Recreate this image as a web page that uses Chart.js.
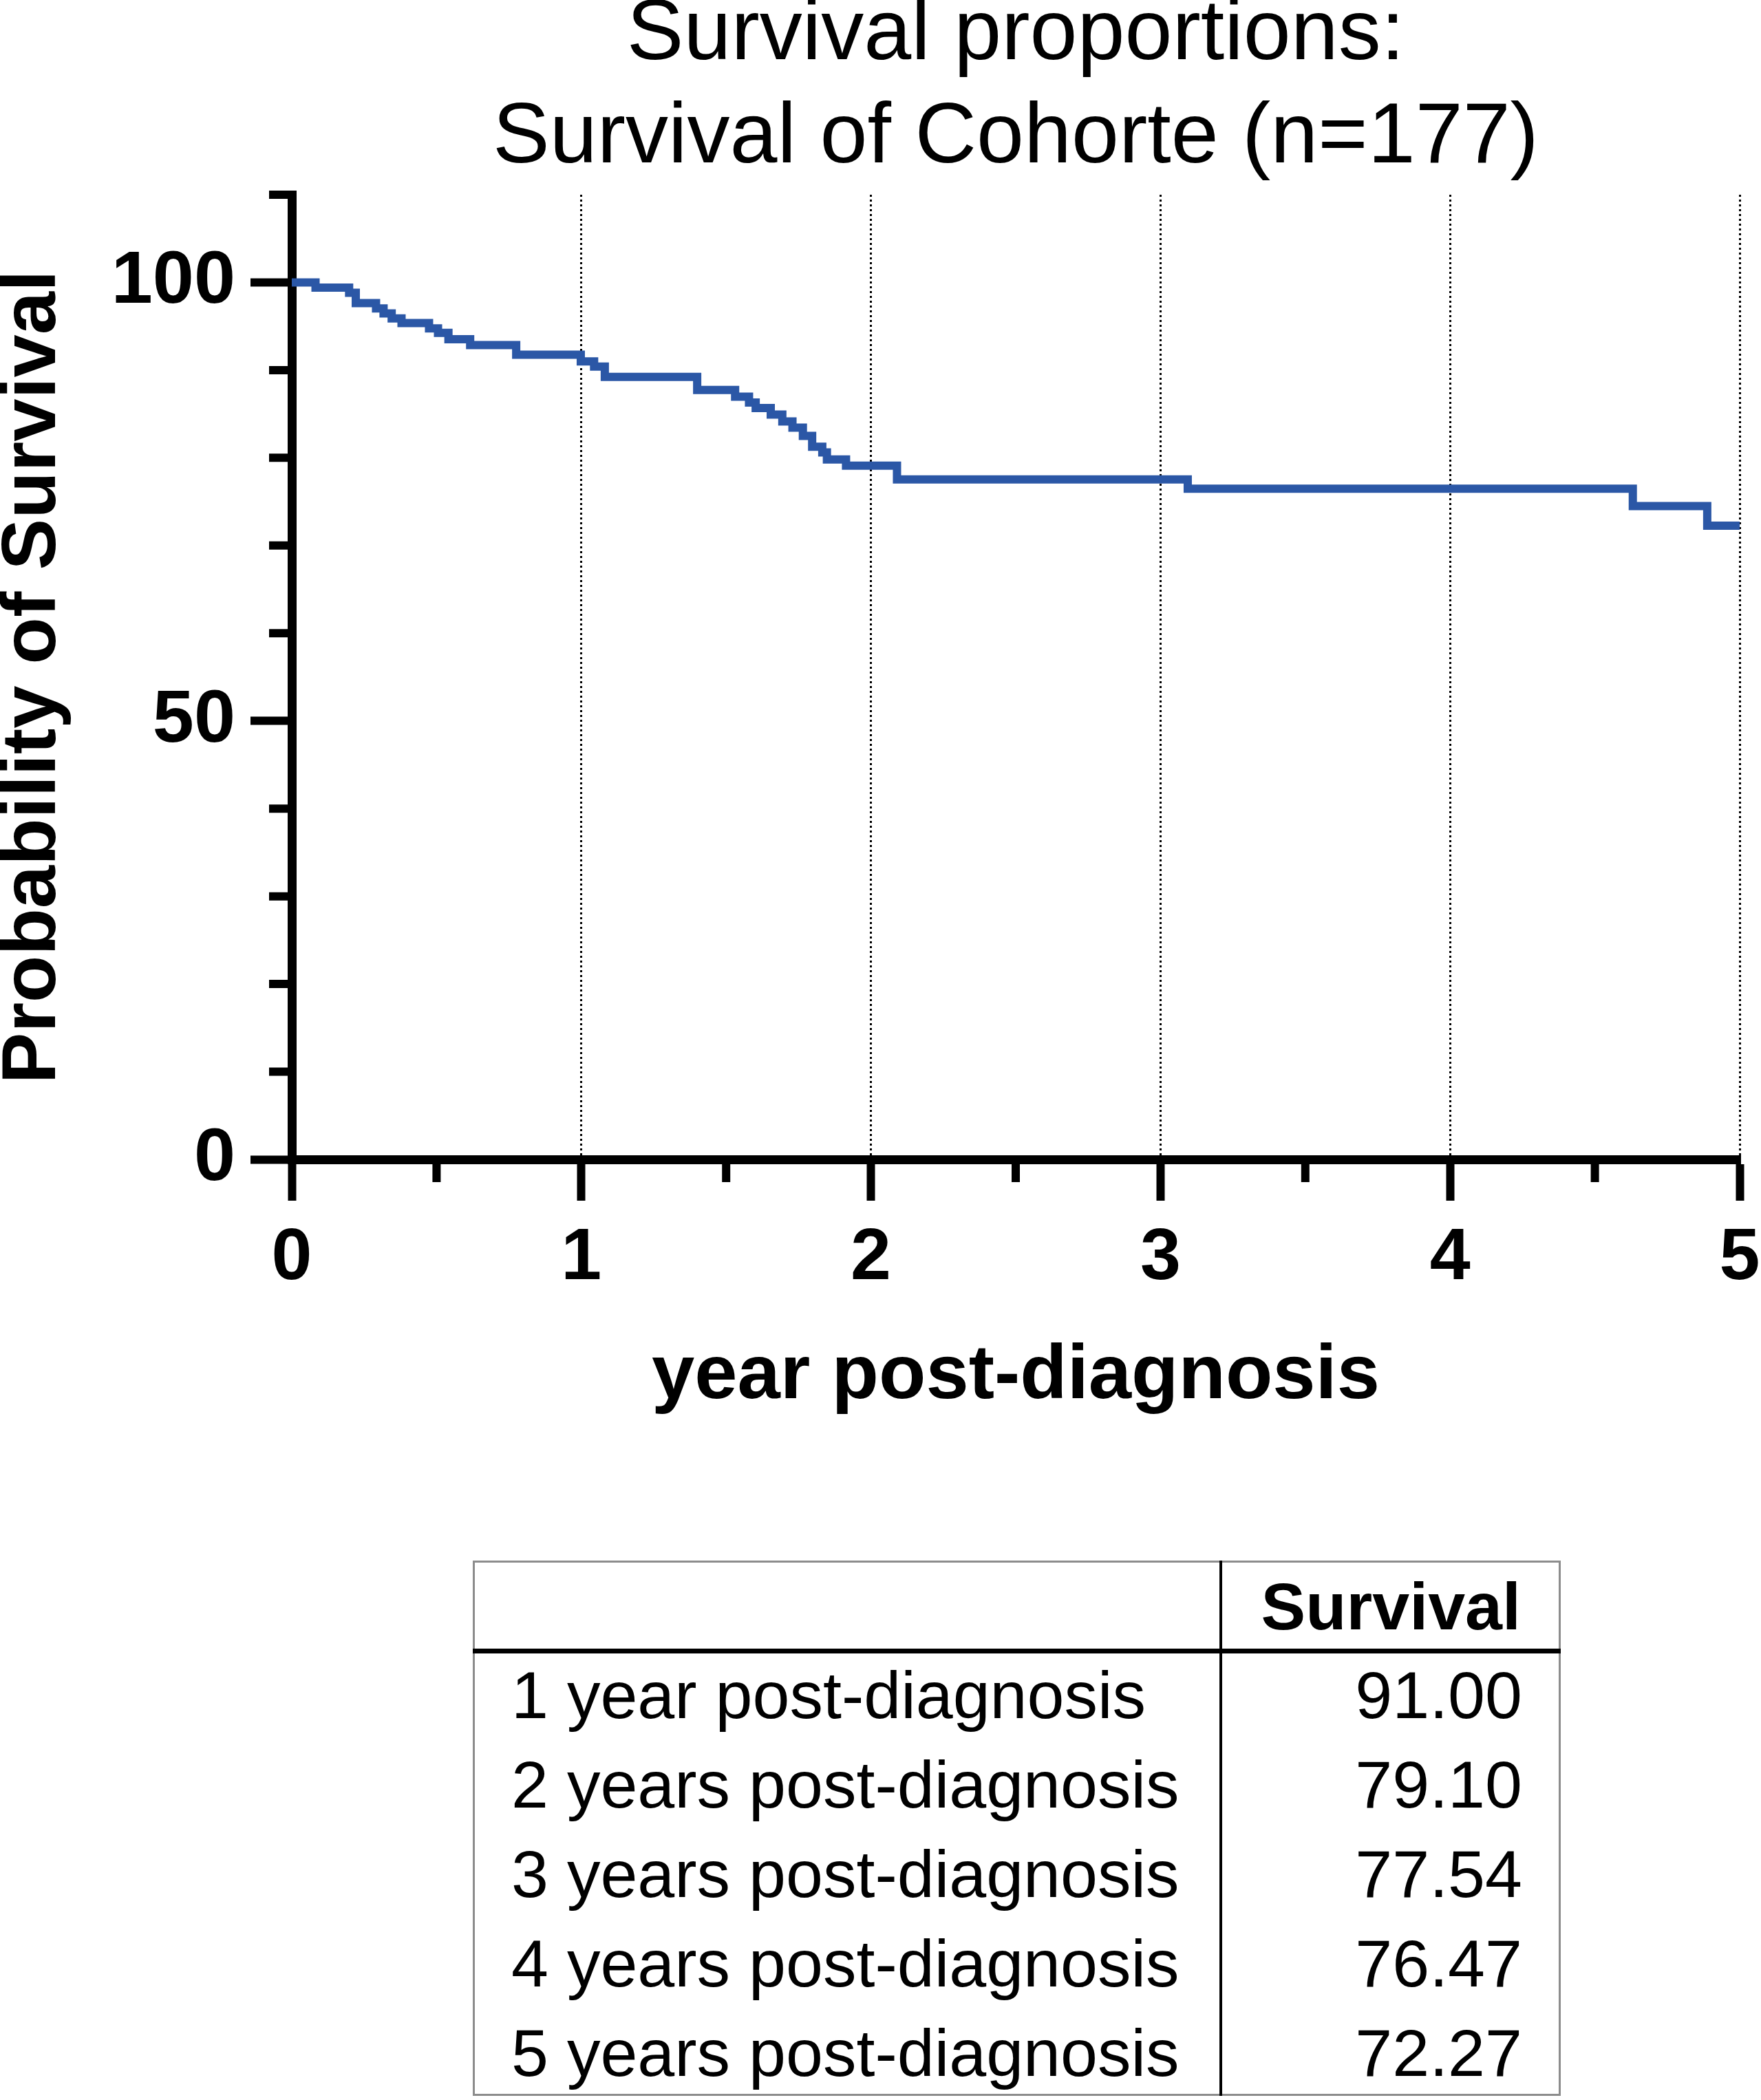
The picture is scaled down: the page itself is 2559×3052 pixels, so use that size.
<!DOCTYPE html>
<html>
<head>
<meta charset="utf-8">
<script src="https://cdn.jsdelivr.net/npm/chart.js@4/dist/chart.umd.min.js"></script>
<style>
  html, body { margin:0; padding:0; background:#fff; }
  body { width:2559px; height:3052px; position:relative; overflow:hidden; font-family:'Liberation Sans', Arial, sans-serif; color:#000; }
  #c { position:absolute; left:0; top:-30px; }
  .abs { position:absolute; }
  .cell { position:absolute; line-height:130px; font-size:97px; white-space:nowrap; }
</style>
</head>
<body>
<canvas id="c" width="2559" height="2230" style="width:2559px;height:2230px"></canvas>

<div class="abs" style="left:687px;top:2268px;width:1581px;height:778px;box-sizing:border-box;border:3px solid #8c8c8c;"></div>
<div class="abs" style="left:1772px;top:2268px;width:4px;height:778px;background:#000;"></div>
<div class="abs" style="left:687px;top:2396px;width:1581px;height:7px;background:#000;"></div>
<div id="tbl"></div>

<script>
// ---- data ----
const titleLines = ['Survival proportions:', 'Survival of Cohorte (n=177)'];
const xAxisTitle = 'year post-diagnosis';
const yAxisTitle = 'Probability of Survival';
const timeYears = [0, 0.082, 0.198, 0.221, 0.291, 0.317, 0.345, 0.379, 0.474, 0.505, 0.541, 0.616, 0.775, 0.998, 1.044, 1.081, 1.400, 1.531, 1.579, 1.602, 1.654, 1.694, 1.729, 1.765, 1.797, 1.832, 1.848, 1.914, 2.090, 3.094, 4.631, 4.888, 5.000];
const survivalPct = [100, 99.41, 98.82, 97.64, 97.04, 96.46, 95.89, 95.36, 94.76, 94.24, 93.53, 92.85, 91.75, 91.00, 90.40, 89.22, 87.74, 86.97, 86.30, 85.67, 84.93, 84.14, 83.44, 82.50, 81.27, 80.61, 79.82, 79.10, 77.54, 76.47, 74.50, 72.27, 72.27];
const yMajorTicks = [0, 50, 100];
const tableHeader = 'Survival';
const tableRowLabels = ['1 year post-diagnosis', '2 years post-diagnosis', '3 years post-diagnosis', '4 years post-diagnosis', '5 years post-diagnosis'];
const tableRowValues = ['91.00', '79.10', '77.54', '76.47', '72.27'];

// ---- table ----
(function(){
  const t = document.getElementById('tbl');
  let html = '<div class="cell" style="left:1776px;width:434px;top:2270px;text-align:right;font-weight:bold;">' + tableHeader + '</div>';
  tableRowLabels.forEach((lab, i) => {
    const top = 2399 + 130 * i;
    html += '<div class="cell" style="left:743px;top:' + top + 'px;">' + lab + '</div>';
    html += '<div class="cell" style="left:1776px;width:436px;top:' + top + 'px;text-align:right;">' + tableRowValues[i] + '</div>';
  });
  t.innerHTML = html;
})();

// ---- chart ----
const FONT = "'Liberation Sans', Arial, sans-serif";
const BLACK = '#000000';
const CLEAR = 'rgba(0,0,0,0)';

const minorTicks = {
  id: 'minorTicks',
  afterDraw(chart) {
    const {ctx, chartArea, scales} = chart;
    const xs = scales.x, ys = scales.y;
    ctx.save();
    ctx.strokeStyle = BLACK;
    ctx.lineWidth = 12;
    xs.ticks.forEach(t => {
      if (!Number.isInteger(t.value)) {
        const px = xs.getPixelForValue(t.value);
        ctx.beginPath();
        ctx.moveTo(px, chartArea.bottom);
        ctx.lineTo(px, chartArea.bottom + 33);
        ctx.stroke();
      }
    });
    ys.ticks.forEach(t => {
      if (!yMajorTicks.includes(t.value)) {
        const py = ys.getPixelForValue(t.value);
        ctx.beginPath();
        ctx.moveTo(chartArea.left, py);
        ctx.lineTo(chartArea.left - 33, py);
        ctx.stroke();
      }
    });
    ctx.restore();
  }
};

new Chart(document.getElementById('c'), {
  type: 'line',
  data: {
    datasets: [{
      data: timeYears.map((t, i) => ({x: t, y: survivalPct[i]})),
      stepped: 'before',
      borderColor: '#2B57A6',
      backgroundColor: '#2B57A6',
      borderWidth: 12,
      borderCapStyle: 'round',
      borderJoinStyle: 'miter',
      pointRadius: 0,
      fill: false,
      tension: 0
    }]
  },
  options: {
    responsive: false,
    devicePixelRatio: 1,
    animation: false,
    layout: { padding: { left: 0, right: 31, top: 0, bottom: 131.6 } },
    plugins: {
      legend: { display: false },
      tooltip: { enabled: false },
      title: {
        display: true,
        fullSize: false,
        text: titleLines,
        color: BLACK,
        font: { family: FONT, size: 124, weight: 'normal', lineHeight: 150 / 124 },
        padding: { top: 7, bottom: 6 }
      }
    },
    scales: {
      x: {
        type: 'linear',
        min: 0, max: 5,
        afterFit: s => { s.height = 383.4; s.paddingLeft = 0; s.paddingRight = 0; },
        ticks: {
          stepSize: 0.5,
          autoSkip: false,
          maxRotation: 0,
          padding: 21,
          color: BLACK,
          font: { family: FONT, size: 106, weight: 'bold' },
          callback: v => Number.isInteger(v) ? String(v) : ''
        },
        grid: {
          display: true,
          drawOnChartArea: true,
          drawTicks: true,
          tickLength: 60,
          tickWidth: 12,
          tickBorderDash: [],
          lineWidth: 3,
          color: c => (c.tick && Number.isInteger(c.tick.value) && c.tick.value > 0) ? BLACK : CLEAR,
          tickColor: c => (c.tick && Number.isInteger(c.tick.value)) ? BLACK : CLEAR
        },
        border: { display: true, color: BLACK, width: 13, dash: [3, 4] },
        title: {
          display: true,
          text: xAxisTitle,
          color: BLACK,
          font: { family: FONT, size: 112, weight: 'bold', lineHeight: 1.2 },
          padding: { top: 0, bottom: 0 }
        }
      },
      y: {
        type: 'linear',
        min: 0, max: 110,
        afterFit: s => { s.width = 424; },
        ticks: {
          stepSize: 10,
          autoSkip: false,
          padding: 22,
          color: BLACK,
          font: { family: FONT, size: 108, weight: 'bold' },
          callback: v => yMajorTicks.includes(v) ? String(v) : ''
        },
        grid: {
          display: true,
          drawOnChartArea: false,
          drawTicks: true,
          tickLength: 60,
          tickWidth: 12,
          tickBorderDash: [],
          lineWidth: 3,
          color: CLEAR,
          tickColor: c => (c.tick && yMajorTicks.includes(c.tick.value)) ? BLACK : CLEAR
        },
        border: { display: true, color: BLACK, width: 13 },
        title: {
          display: true,
          text: yAxisTitle,
          color: BLACK,
          font: { family: FONT, size: 112, weight: 'bold', lineHeight: 0.85 },
          padding: { top: 1.6, bottom: 0 }
        }
      }
    }
  },
  plugins: [minorTicks]
});
</script>
</body>
</html>
